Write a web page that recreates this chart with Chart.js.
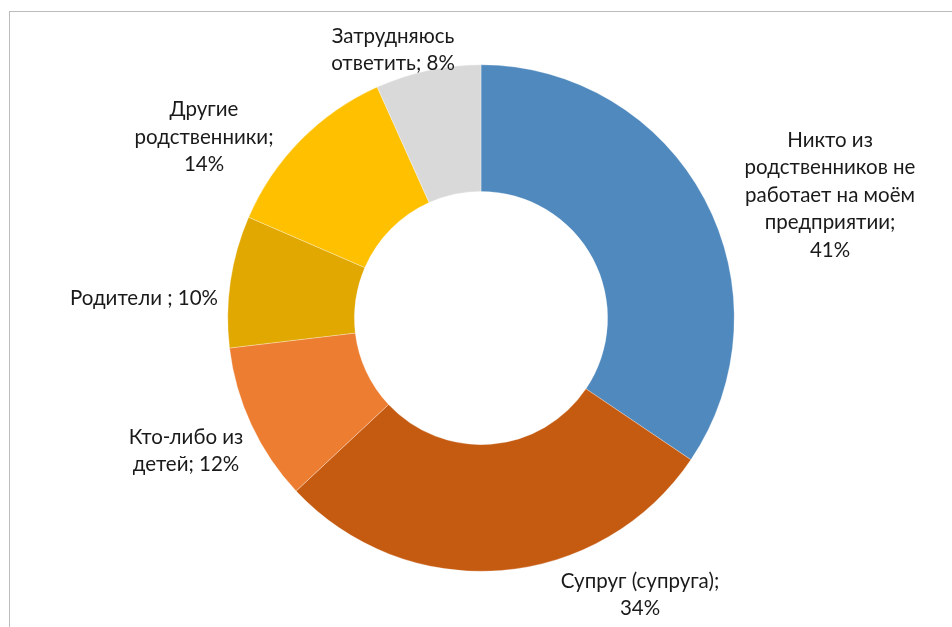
<!DOCTYPE html>
<html>
<head>
<meta charset="utf-8">
<script src="https://cdn.jsdelivr.net/npm/chart.js@4"></script>
<style>
    html, body { margin: 0; padding: 0; background: #fff; }
    #wrap { position: relative; width: 952px; height: 627px; }
    #frame { position: absolute; left: 9px; top: 11px; right: 0; bottom: 0;
             border-top: 1px solid #bcbcbc; border-left: 1px solid #bcbcbc; }
    canvas { position: absolute; left: 0; top: 0; }
</style>
</head>
<body>
<div id="wrap">
    <div id="frame"></div>
    <canvas id="donutChart" width="952" height="627"></canvas>
</div>
<script>
const categories = [
    "Никто из родственников не работает на моём предприятии",
    "Супруг (супруга)",
    "Кто-либо из детей",
    "Родители ",
    "Другие родственники",
    "Затрудняюсь ответить"
];
const values = [41, 34, 12, 10, 14, 8];
const colors = ["#4f89bd", "#c55a11", "#ed7d31", "#e0a800", "#ffc000", "#d9d9d9"];

// how each data label is broken into lines; {v} is the value
const labelLines = [
    ["Никто из", "родственников не", "работает на моём", "предприятии;", "{v}%"],
    ["Супруг (супруга);", "{v}%"],
    ["Кто-либо из", "детей; {v}%"],
    ["Родители ; {v}%"],
    ["Другие", "родственники;", "{v}%"],
    ["Затрудняюсь", "ответить; {v}%"]
];
// label block centre, relative to the doughnut centre
const labelOffsets = [[349, -123], [159, 277], [-295, 133], [-337, -20], [-277, -181], [-88, -268]];

const labelPlugin = {
    id: "outerLabels",
    afterDraw(chart) {
        const c = chart.ctx;
        const arcs = chart.getDatasetMeta(0).data;
        c.save();
        c.font = "20.5px Lato";
        c.fillStyle = "#1a1a1a";
        c.textAlign = "center";
        c.textBaseline = "middle";
        const lh = 27.5;
        arcs.forEach((arc, i) => {
            const lines = labelLines[i].map(s => s.replace("{v}", values[i]));
            const cx = arc.x + labelOffsets[i][0];
            const cy = arc.y + labelOffsets[i][1];
            const top = cy - (lines.length - 1) * lh / 2;
            lines.forEach((ln, k) => c.fillText(ln, cx, top + k * lh));
        });
        c.restore();
    }
};

const ctx = document.getElementById("donutChart").getContext("2d");
new Chart(ctx, {
    type: "doughnut",
    data: {
        labels: categories,
        datasets: [{
            data: values,
            backgroundColor: colors,
            borderColor: "rgba(255,255,255,0.6)",
            borderWidth: 0.5
        }]
    },
    options: {
        responsive: false,
        animation: false,
        cutout: "50%",
        layout: { padding: { left: 227.5, top: 64.5, right: 217.5, bottom: 55.5 } },
        plugins: {
            legend: { display: false },
            tooltip: { enabled: false }
        }
    },
    plugins: [labelPlugin]
});
</script>
</body>
</html>
